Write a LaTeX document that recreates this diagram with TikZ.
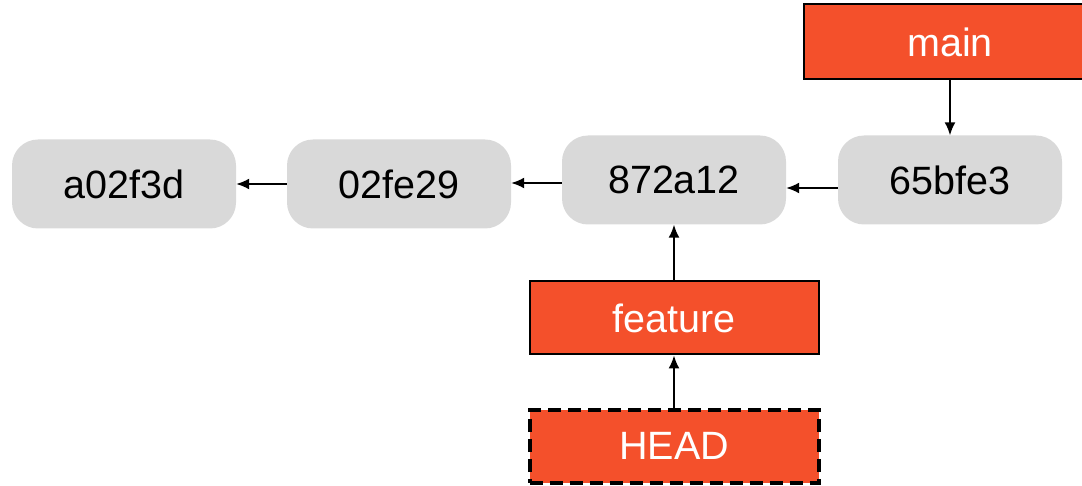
\documentclass[tikz,border=0pt]{standalone}
\usepackage{fontspec}
\setmainfont{Liberation Sans}
\usetikzlibrary{arrows.meta}
\definecolor{gitred}{HTML}{F4502B}
\definecolor{commitgray}{HTML}{D9D9D9}
\begin{document}
\begin{tikzpicture}[x=1pt,y=-1pt,
  commit/.style={fill=commitgray, rounded corners=26pt, minimum width=224pt, minimum height=89pt, inner sep=0pt, font=\fontsize{39.5}{44}\selectfont, text=black},
  ref/.style={fill=gitred, draw=black, line width=2pt, minimum width=289pt, minimum height=73pt, inner sep=0pt, font=\fontsize{39.5}{44}\selectfont, text=white},
  headref/.style={ref, line width=4pt, dash pattern=on 13pt off 7pt},
  link/.style={-{Latex[length=13pt,width=11pt]}, line width=1.8pt, black}]
\useasboundingbox (0,0) rectangle (1082,486);
\clip (0,0) rectangle (1082,486);
\node[commit] (a02) at (124,184) {a02f3d};
\node[commit] (n02) at (399,184) {02fe29};
\node[commit] (n872) at (674,180) {872a12};
\node[commit] (n65) at (950,180) {65bfe3};
\node[ref, minimum width=292pt, minimum height=75pt] (main) at (950,42) {main};
\node[ref] (feature) at (674,318) {feature};
\node[headref] (head) at (674,446) {HEAD};
\draw[link] (main.south) -- (n65.north);
\draw[link] (n65.west |- 0,188) -- (n872.east |- 0,188);
\draw[link] (n872.west |- 0,183) -- (n02.east |- 0,183);
\draw[link] (n02.west) -- (a02.east);
\draw[link] (feature.north) -- (n872.south);
\draw[link] (head.north) -- (feature.south);
\end{tikzpicture}
\end{document}
